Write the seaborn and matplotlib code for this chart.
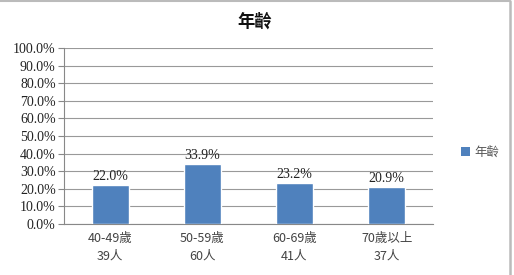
import matplotlib
matplotlib.use("Agg")
import matplotlib.pyplot as plt
import seaborn as sns
import pandas as pd
import numpy as np
from matplotlib.patches import Patch
from matplotlib.lines import Line2D

categories = ["40-49歲\n39人", "50-59歲\n60人", "60-69歲\n41人", "70歲以上\n37人"]
values = [22.0, 33.9, 23.2, 20.9]
series_name = "年齡"
yticks = [0, 10, 20, 30, 40, 50, 60, 70, 80, 90, 100]

sns.set_style("white")
plt.rcParams['font.family'] = ['Noto Sans CJK TC', 'DejaVu Sans']

df = pd.DataFrame({"cat": categories, "val": values})

fig = plt.figure(figsize=(5.14, 2.75), dpi=100)
ax = fig.add_axes([0.1245, 0.1855, 0.7175, 0.64])

sns.barplot(data=df, x="cat", y="val", color="#4F81BD", width=0.4,
            saturation=1, ax=ax, zorder=3)

ax.set_ylim(0, 100)
ax.set_xlim(-0.5, len(categories) - 0.5)
ax.set_yticks(yticks)
ax.set_yticklabels([f"{v:.1f}%" for v in yticks], family=['Liberation Serif'],
                   fontsize=10, color="#222222")
ax.yaxis.grid(True, color="#999999", linewidth=0.8, zorder=0)
ax.set_axisbelow(True)
ax.set_xlabel("")
ax.set_ylabel("")

ax.set_xticks(range(len(categories)))
ax.set_xticklabels(categories, fontsize=9, color="#444444", linespacing=1.45)
ax.tick_params(axis='x', length=0, pad=6)
ax.set_xticks(np.arange(-0.5, len(categories) + 0.5, 1), minor=True)
ax.tick_params(axis='x', which='minor', length=4, color="#888888", width=0.8)
ax.tick_params(axis='y', length=4, color="#888888", width=0.8, pad=2, left=True)

for s in ["top", "right"]:
    ax.spines[s].set_visible(False)
for s in ["left", "bottom"]:
    ax.spines[s].set_color("#888888")
    ax.spines[s].set_linewidth(0.8)

for i, v in enumerate(values):
    ax.text(i, v + 1.2, f"{v:.1f}%", ha="center", va="bottom",
            family=['Liberation Serif'], fontsize=10, color="#222222")

fig.text(0.496, 0.92, series_name, ha="center", va="center", fontsize=12.5,
         fontweight="bold", color="#111111")

handles = [Patch(facecolor="#4F81BD", edgecolor="none", label=series_name)]
fig.legend(handles=handles, loc="center left", bbox_to_anchor=(0.875, 0.445),
           frameon=False, fontsize=9, handlelength=0.7, handleheight=0.7,
           handletextpad=0.4, labelcolor="#555555")

# frame: top and right edges only
fig.lines.append(Line2D([0, 0.992], [0.997, 0.997], transform=fig.transFigure,
                        color="#BBBBBB", linewidth=1.5))
fig.lines.append(Line2D([0.9915, 0.9915], [0, 0.997], transform=fig.transFigure,
                        color="#BBBBBB", linewidth=1.8))

fig.savefig("out.png", dpi=100)
